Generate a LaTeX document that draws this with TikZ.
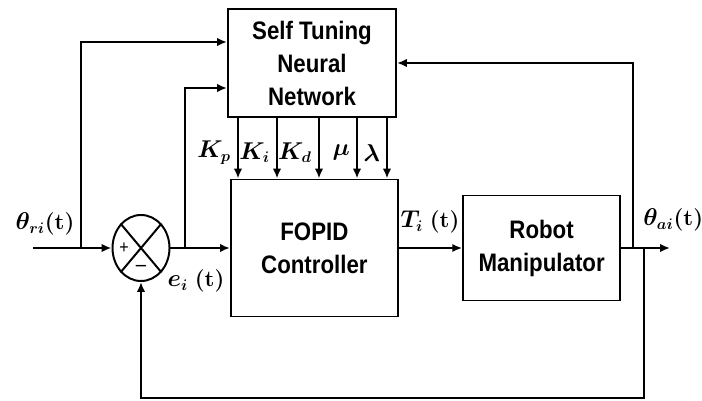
\documentclass[tikz,border=0pt]{standalone}
\usepackage{amsmath,amssymb}
\usepackage{fontspec}
\setsansfont{Liberation Sans}[FakeStretch=0.88]
\usepackage{tikz}
\usetikzlibrary{arrows.meta, shapes.geometric, positioning}

\begin{document}
\begin{tikzpicture}[scale=1.0,
  >={Latex[length=7pt,width=6pt]},
  every path/.style={line width=1.4pt},
  block/.style={draw, rectangle, line width=1.4pt, align=center, font=\sffamily\bfseries\fontsize{18}{23.5}\selectfont},
  lbl/.style={font=\fontsize{16}{18}\selectfont, inner sep=1pt}]
\useasboundingbox (0,0) rectangle (17.55,-10.025);
% Blocks
\node[block, minimum width=4.2cm, minimum height=2.7cm] (nn) at (7.8,-1.575) {Self Tuning\\Neural\\Network};
\node[block, minimum width=4.175cm, minimum height=3.425cm] (fopid) at (7.86,-6.2) {FOPID\\Controller};
\node[block, minimum width=3.925cm, minimum height=2.625cm] (robot) at (13.54,-6.2) {Robot\\Manipulator};
%
% Summing junction
\node[draw, ellipse, line width=1.4pt, minimum width=1.425cm, minimum height=1.65cm, inner sep=0pt] (sum) at (3.525,-6.2) {};
\draw (sum.50) -- (sum.230); % cross
\draw (sum.130) -- (sum.310);
\node[font=\sffamily\fontsize{13}{13}\selectfont, inner sep=0pt] (plus) at (3.1,-6.2) {+};
\node[font=\sffamily\fontsize{15}{15}\selectfont, inner sep=0pt] (minus) at (3.525,-6.72) {--};
%
% Signal points
\coordinate (in) at (0.825,-6.2);
\coordinate (b1) at (2.025,-6.2);
\coordinate (b2) at (4.625,-6.2);
\coordinate (f1) at (15.825,-6.2);
\coordinate (f2) at (16.1,-6.2);
\coordinate (fb) at (16.1,-9.95);
\coordinate (out) at (16.75,-6.2);
%
% Forward path
\draw[->] (in) -- (sum.west);
\draw[->] (sum.east) -- (fopid.west);
\draw[->] (fopid.east) -- (robot.west);
\draw[->] (robot.east) -- (out);
%
% Inputs to the neural network
\draw[->] (b1) |- ([yshift=0.525cm]nn.west);
\draw[->] (b2) |- ([yshift=-0.625cm]nn.west);
\draw[->] (f1) |- (nn.east);
%
% Feedback to the junction
\draw[->] (f2) -- (fb) -| (sum.south);
%
% Gains from the network to the controller
\foreach \x/\g in {5.95/K_p, 6.925/K_i, 7.975/K_d, 8.925/\mu, 9.675/\lambda}{
  \draw[->] (\x,0 |- nn.south) -- (\x,0 |- fopid.north);
  \node[lbl, anchor=east] at (\x-0.12,-3.82) {$\boldsymbol{\g}$};
}
%
% Signal labels
\node[lbl] (thr) at (1.125,-5.6) {$\boldsymbol{\theta_{ri}}$\textbf{(t)}};
\node[lbl] (err) at (4.9,-7.02) {$\boldsymbol{e_i}$ \textbf{(t)}};
\node[lbl] (trq) at (10.75,-5.55) {$\boldsymbol{T_i}$ \textbf{(t)}};
\node[lbl] (tha) at (16.83,-5.5) {$\boldsymbol{\theta_{ai}}$\textbf{(t)}};
\end{tikzpicture}
\end{document}
